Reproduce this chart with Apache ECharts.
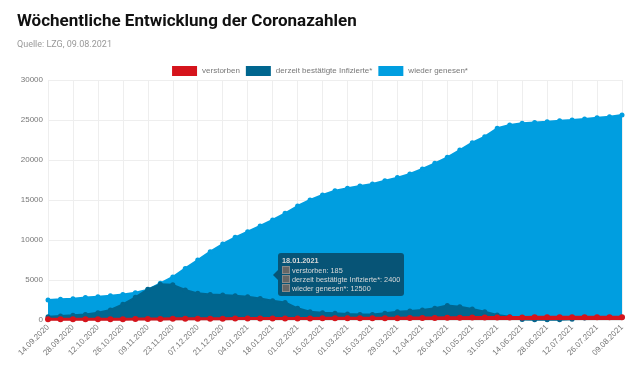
<!DOCTYPE html>
<html>
<head>
<meta charset="utf-8">
<script src="https://cdn.jsdelivr.net/npm/echarts@6/dist/echarts.min.js"></script>
<style>
html,body{margin:0;padding:0;background:#fff;}
#c{width:640px;height:382px;}
</style>
</head>
<body>
<div id="c"></div>
<script>
const categories = ["14.09.2020","21.09.2020","28.09.2020","05.10.2020","12.10.2020","19.10.2020","26.10.2020","02.11.2020","09.11.2020","16.11.2020","23.11.2020","30.11.2020","07.12.2020","14.12.2020","21.12.2020","28.12.2020","04.01.2021","11.01.2021","18.01.2021","25.01.2021","01.02.2021","08.02.2021","15.02.2021","22.02.2021","01.03.2021","08.03.2021","15.03.2021","22.03.2021","29.03.2021","05.04.2021","12.04.2021","19.04.2021","26.04.2021","03.05.2021","10.05.2021","17.05.2021","31.05.2021","07.06.2021","14.06.2021","21.06.2021","28.06.2021","05.07.2021","12.07.2021","19.07.2021","26.07.2021","02.08.2021","09.08.2021"];
const verstorben = [90,92,95,97,100,103,108,115,125,135,145,152,160,165,170,175,178,182,185,190,195,200,205,208,212,216,220,225,232,240,250,262,275,290,305,315,320,325,328,330,332,334,336,338,340,342,345];
const infizierte = [420,500,580,700,920,1250,1960,2830,3830,4460,4400,3750,3330,3200,3125,3040,2920,2700,2400,2200,1460,1040,920,830,750,700,700,830,1040,1125,1250,1460,1800,1670,1375,1040,625,400,60,30,20,40,80,250,300,320,340];
const genesen = [2500,2580,2670,2800,2920,3040,3200,3420,3800,4580,5380,6450,7500,8540,9500,10330,11040,11750,12500,13330,14250,15000,15625,16170,16460,16750,17000,17420,17800,18250,18880,19580,20330,21250,22170,22920,23960,24375,24580,24700,24790,24920,25000,25125,25290,25420,25625];
const seriesNames = ["verstorben","derzeit bestätigte Infizierte*","wieder genesen*"];
const yTicks = [0,5000,10000,15000,20000,25000,30000];

const colors = ["#d5141c","#00668f","#009ee0"];
const tipBg = 'rgba(8,78,108,0.92)';
const chart = echarts.init(document.getElementById('c'));

function tipHtml(i){
  const sq = '<span style="display:inline-block;width:6px;height:6px;background:#666;border:1px solid #8a8a8a;margin-right:2px;vertical-align:-1px;"></span>';
  return '<div style="position:absolute;left:-5px;top:50%;margin-top:-5px;width:0;height:0;border-top:5px solid transparent;border-bottom:5px solid transparent;border-right:5px solid ' + tipBg + ';"></div>' +
    '<div style="font-size:7.3px;line-height:9px;font-family:Liberation Sans;color:#d8d8d8;">' +
    '<div style="font-weight:bold;margin-bottom:1px;">' + categories[i] + '</div>' +
    '<div>' + sq + seriesNames[0] + ': ' + verstorben[i] + '</div>' +
    '<div>' + sq + seriesNames[1] + ': ' + infizierte[i] + '</div>' +
    '<div>' + sq + seriesNames[2] + ': ' + genesen[i] + '</div></div>';
}

chart.setOption({
  animation: false,
  title: {
    text: 'Wöchentliche Entwicklung der Coronazahlen',
    subtext: 'Quelle: LZG, 09.08.2021',
    left: 12, top: 8,
    itemGap: 10,
    textStyle: {fontFamily: 'Roboto', fontWeight: 'bold', fontSize: 17, color: '#111'},
    subtextStyle: {fontFamily: 'Roboto', fontSize: 9, color: '#999'}
  },
  legend: {
    top: 61, left: 'center',
    itemWidth: 25, itemHeight: 10, itemGap: 6,
    icon: 'rect',
    data: seriesNames,
    textStyle: {fontFamily: 'Liberation Sans', fontSize: 8, color: '#777'}
  },
  tooltip: {
    trigger: 'item',
    triggerOn: 'none',
    alwaysShowContent: true,
    position: [278, 253],
    backgroundColor: tipBg,
    borderWidth: 0,
    borderRadius: 3,
    padding: [3, 4, 3, 4],
    textStyle: {fontFamily: 'Liberation Sans', fontSize: 7, color: '#d8d8d8'},
    extraCssText: 'box-shadow:none;line-height:9px;',
    formatter: function(p){ return tipHtml(p.dataIndex); }
  },
  grid: {left: 48, right: 18, top: 80, bottom: 62},
  xAxis: {
    type: 'category',
    boundaryGap: false,
    data: categories,
    axisLine: {show: true, lineStyle: {color: '#e6e6e6'}},
    axisTick: {show: false},
    axisLabel: {rotate: 45, interval: 1, fontSize: 8, color: '#777', fontFamily: 'Liberation Sans', margin: 6},
    splitLine: {show: true, interval: 1, lineStyle: {color: '#eeeeee'}}
  },
  yAxis: {
    type: 'value',
    min: yTicks[0], max: yTicks[yTicks.length-1], interval: yTicks[1]-yTicks[0],
    axisLine: {show: false},
    axisTick: {show: false},
    axisLabel: {fontSize: 8, color: '#777', fontFamily: 'Liberation Sans', margin: 5, formatter: function(v){ return String(v); }},
    splitLine: {lineStyle: {color: '#eeeeee'}}
  },
  series: [
    {name: seriesNames[0], type: 'line', data: verstorben, z: 5,
     symbol: 'circle', symbolSize: 6, showAllSymbol: true,
     itemStyle: {color: colors[0]}, lineStyle: {color: colors[0], width: 3},
     areaStyle: {color: colors[0], opacity: 1}, emphasis: {disabled: true}},
    {name: seriesNames[1], type: 'line', data: infizierte, z: 4,
     symbol: 'circle', symbolSize: 5, showAllSymbol: true,
     itemStyle: {color: colors[1]}, lineStyle: {color: colors[1], width: 2},
     areaStyle: {color: colors[1], opacity: 1}, emphasis: {disabled: true}},
    {name: seriesNames[2], type: 'line', data: genesen, z: 3,
     symbol: 'circle', symbolSize: 5, showAllSymbol: true,
     itemStyle: {color: colors[2]}, lineStyle: {color: colors[2], width: 2},
     areaStyle: {color: colors[2], opacity: 1}, emphasis: {disabled: true}}
  ]
});
chart.dispatchAction({type: 'showTip', seriesIndex: 2, dataIndex: 18});
</script>
</body>
</html>
